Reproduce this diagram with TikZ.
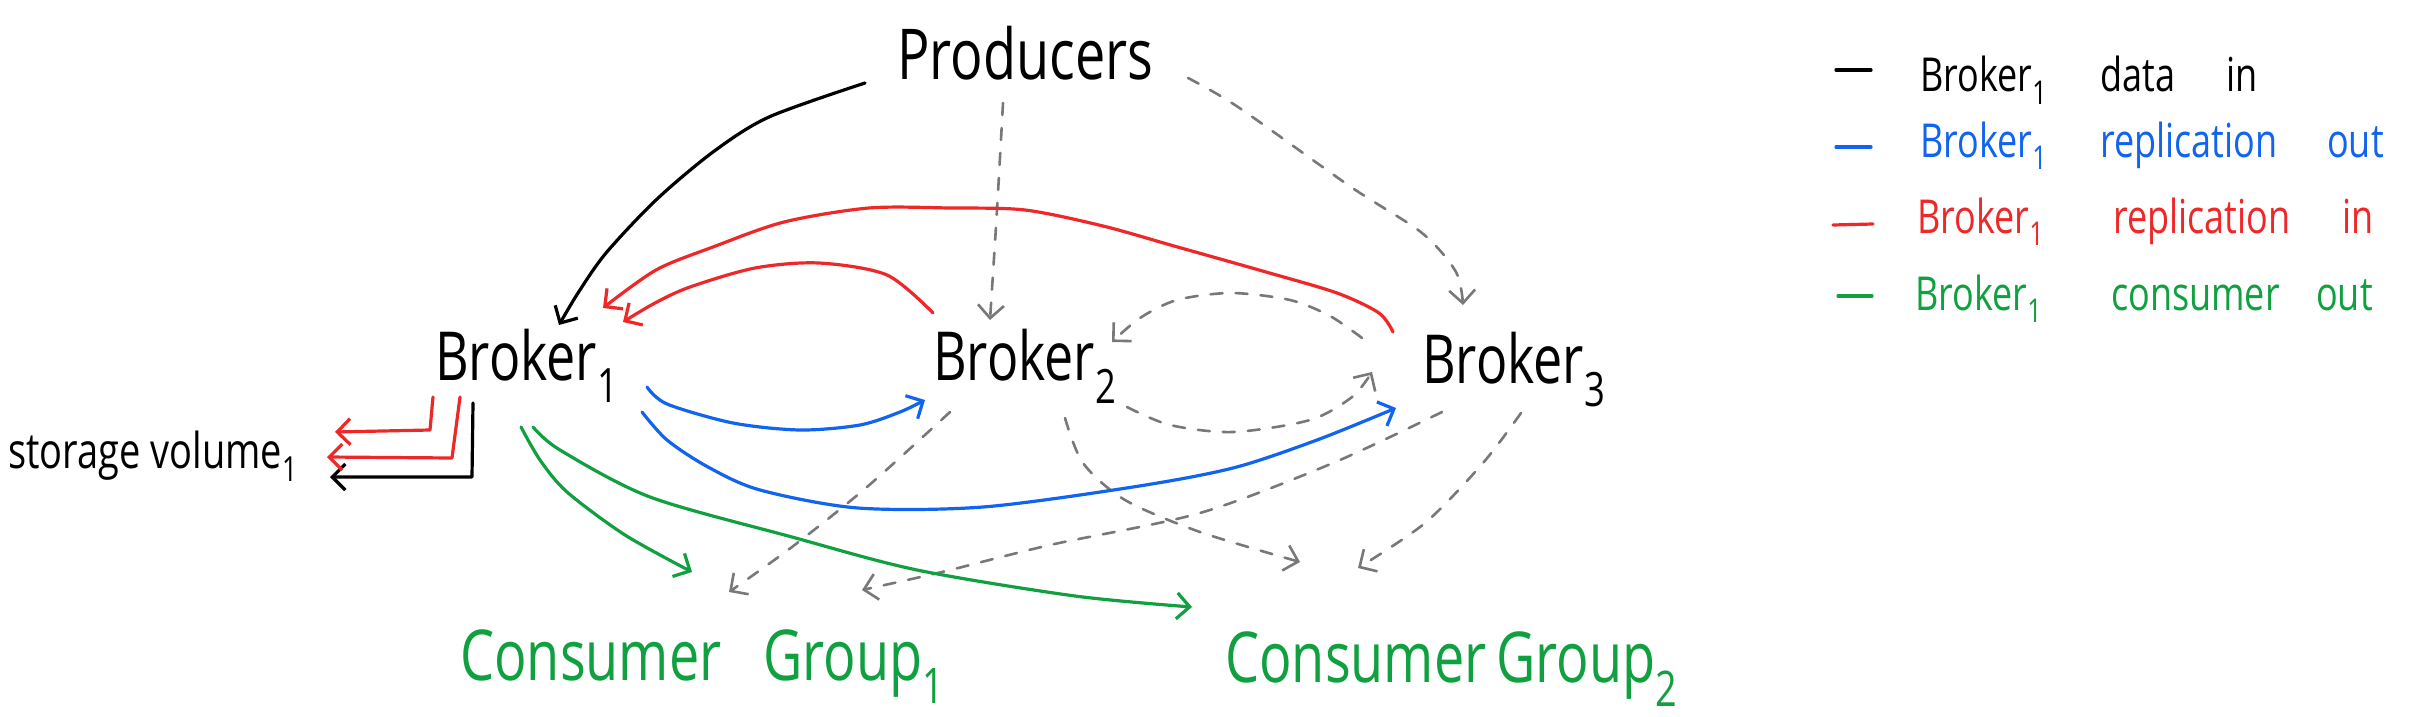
\documentclass[tikz,border=0pt]{standalone}
\usepackage{fontspec}
\usepackage{graphicx}
\setmainfont{Open Sans}
\usetikzlibrary{arrows.meta}
\definecolor{hblue}{RGB}{16,100,240}
\definecolor{hred}{RGB}{238,40,40}
\definecolor{hgreen}{RGB}{16,160,64}
\definecolor{hgray}{RGB}{120,120,120}
\newcommand{\tallhand}[1]{\scalebox{1}[1.3]{#1}}
\begin{document}
\begin{tikzpicture}[x=1pt,y=-1pt,
  lbl/.style={inner sep=0pt, anchor=base west},
  tip/.style={-{Straight Barb[length=13pt,width=26pt]}},
  ink/.style={line width=3.2pt, line cap=round, line join=round, tip},
  datain/.style={ink, black},
  repout/.style={ink, hblue},
  repin/.style={ink, hred},
  consout/.style={ink, hgreen},
  other/.style={line width=2.6pt, hgray, dash pattern=on 12pt off 13pt, line cap=round, tip},
  legdash/.style={line width=3.2pt, line cap=round},
  big/.style={font=\fontsize{54}{60}\selectfont},
  brk/.style={font=\fontsize{52}{60}\selectfont},
  leg/.style={font=\fontsize{36}{42}\selectfont},
]
\useasboundingbox (0,0) rectangle (2425,717);

% ---------- texts ----------
\node[lbl, big] (prod) at (897,80) {\tallhand{Producers}};
\node[lbl, brk] (b1) at (435,380) {\tallhand{Broker\textsubscript{1}}};
\node[lbl, brk] (b2) at (933,380) {\tallhand{Broker\textsubscript{2}}};
\node[lbl, brk] (b3) at (1422,383) {\tallhand{Broker\textsubscript{3}}};
\node[lbl, font=\fontsize{38}{44}\selectfont] (sv) at (8,468) {\tallhand{storage volume\textsubscript{1}}};
\node[lbl, big, hgreen] (cg1) at (460,680) {\tallhand{\makebox[303pt][l]{Consumer}Group\textsubscript{1}}};
\node[lbl, big, hgreen] (cg2) at (1225,682) {\tallhand{\makebox[271pt][l]{Consumer}Group\textsubscript{2}}};

% ---------- legend ----------
\coordinate (l1a) at (1836,70);  \coordinate (l1b) at (1871,70);
\coordinate (l2a) at (1836,147); \coordinate (l2b) at (1871,147);
\coordinate (l3a) at (1833,225); \coordinate (l3b) at (1873,224);
\coordinate (l4a) at (1838,296); \coordinate (l4b) at (1872,296);
\draw[legdash, black] (l1a) -- (l1b);
\draw[legdash, hblue] (l2a) -- (l2b);
\draw[legdash, hred] (l3a) -- (l3b);
\draw[legdash, hgreen] (l4a) -- (l4b);
\node[lbl, leg] (leg1) at (1920,92) {\tallhand{\makebox[180pt][l]{Broker\textsubscript{1}}\makebox[126pt][l]{data}in}};
\node[lbl, leg, hblue] (leg2) at (1920,157) {\tallhand{\makebox[180pt][l]{Broker\textsubscript{1}}\makebox[227pt][l]{replication}out}};
\node[lbl, leg, hred] (leg3) at (1917,233) {\tallhand{\makebox[196pt][l]{Broker\textsubscript{1}}\makebox[229pt][l]{replication}in}};
\node[lbl, leg, hgreen] (leg4) at (1915,310) {\tallhand{\makebox[196pt][l]{Broker\textsubscript{1}}\makebox[205pt][l]{consumer}out}};

% ---------- connector end points ----------
\coordinate (p-b1) at (865,83);   \coordinate (b1-p) at (559,325);
\coordinate (p-b2) at (1003,103); \coordinate (b2-p) at (990,320);
\coordinate (p-b3) at (1188,78);  \coordinate (b3-p) at (1463,305);
\coordinate (b3-b1s) at (1393,332); \coordinate (b1-b3e) at (603,308);
\coordinate (b2-b1s) at (933,313);  \coordinate (b1-b2e) at (623,322);
\coordinate (b1-b2s) at (647,387);  \coordinate (b2-b1e) at (925,400);
\coordinate (b1-b3s) at (642,412);  \coordinate (b3-b1e) at (1396,408);
\coordinate (b1-c1s) at (521,427);  \coordinate (c1-b1e) at (692,572);
\coordinate (b1-c2s) at (533,427);  \coordinate (c2-b1e) at (1192,607);
\coordinate (b3-b2s) at (1362,338); \coordinate (b2-b3e) at (1112,342);
\coordinate (b2-b3s) at (1127,407); \coordinate (b3-b2e) at (1372,372);
\coordinate (b2-c1s) at (950,412);  \coordinate (c1-b2e) at (729,592);
\coordinate (b3-c1s) at (1442,412); \coordinate (c1-b3e) at (862,590);
\coordinate (b2-c2s) at (1065,418); \coordinate (c2-b2e) at (1300,562);
\coordinate (b3-c2s) at (1521,413); \coordinate (c2-b3e) at (1358,568);
\coordinate (b1-sv1) at (433,397);  \coordinate (sv-r1) at (335,432);
\coordinate (b1-sv2) at (460,397);  \coordinate (sv-r2) at (327,457);
\coordinate (b1-sv3) at (473,403);  \coordinate (sv-k) at (330,477);

% ---------- gray dashed (other brokers) ----------
\draw[other] plot[smooth] coordinates {(p-b2) (997,210) (b2-p)};
\draw[other] plot[smooth] coordinates {(p-b3) (1238,107) (1351,187) (1422,233) (1456,272) (b3-p)};
\draw[other] plot[smooth] coordinates {(b3-b2s) (1330,316) (1290,300) (1231,293) (1177,300) (1140,318) (b2-b3e)};
\draw[other] plot[smooth] coordinates {(b2-b3s) (1170,425) (1233,432) (1310,420) (1352,397) (b3-b2e)};
\draw[other] plot[smooth] coordinates {(b2-c1s) (867,487) (792,547) (c1-b2e)};
\draw[other] plot[smooth] coordinates {(b3-c1s) (1333,463) (1200,513) (1050,545) (942,572) (c1-b3e)};
\draw[other] plot[smooth] coordinates {(b2-c2s) (1083,463) (1125,500) (1200,532) (c2-b2e)};
\draw[other] plot[smooth] coordinates {(b3-c2s) (1483,463) (1425,523) (c2-b3e)};

% ---------- broker 1 data in ----------
\draw[datain] plot[smooth] coordinates {(p-b1) (769,117) (713,152) (656,200) (606,253) (578,293) (b1-p)};
\draw[datain, sharp corners] (b1-sv3) -- (472,477) -- (sv-k);

% ---------- broker 1 replication in ----------
\draw[repin] plot[smooth] coordinates {(b3-b1s) (1379,313) (1337,293) (1266,272) (1174,246) (1103,226) (1025,210) (950,208) (869,208) (784,222) (713,247) (656,270) (b1-b3e)};
\draw[repin] plot[smooth] coordinates {(b2-b1s) (887,275) (819,263) (755,268) (690,287) (655,303) (b1-b2e)};
\draw[repin, sharp corners] (b1-sv1) -- (430,430) -- (sv-r1);
\draw[repin, sharp corners] (b1-sv2) -- (452,458) -- (sv-r2);

% ---------- broker 1 replication out ----------
\draw[repout] plot[smooth] coordinates {(b1-b2s) (667,404) (733,423) (800,430) (860,425) (900,412) (b2-b1e)};
\draw[repout] plot[smooth] coordinates {(b1-b3s) (667,440) (708,467) (760,490) (858,508) (983,507) (1133,487) (1233,468) (1317,440) (b3-b1e)};

% ---------- broker 1 consumer out ----------
\draw[consout] plot[smooth] coordinates {(b1-c1s) (540,460) (567,492) (625,535) (c1-b1e)};
\draw[consout] plot[smooth] coordinates {(b1-c2s) (560,450) (650,497) (792,537) (917,570) (1075,596) (c2-b1e)};
\end{tikzpicture}
\end{document}
